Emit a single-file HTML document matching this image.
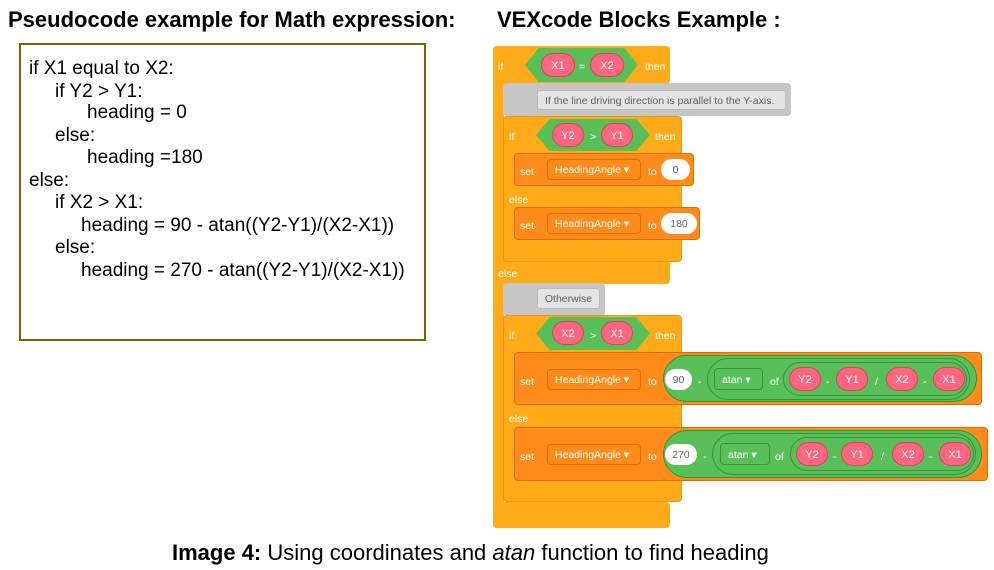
<!DOCTYPE html>
<html><head><meta charset="utf-8"><style>
*{margin:0;padding:0;box-sizing:border-box}
body{width:994px;height:570px;background:#fff;position:relative;overflow:hidden;font-family:"Liberation Sans",Arial,sans-serif}
.a{position:absolute}
.t{position:absolute;white-space:nowrap}
.code{font-size:19px;color:#000;line-height:24px}
.o{background:#ffab19;border-radius:4px;position:absolute}
.d{background:#ff8c1a;border-radius:4px;position:absolute;border:1px solid #db6e00}
.g{background:#c6c6c6;position:absolute;border-radius:4px}
.w{color:#fff;font-size:10.5px;position:absolute;white-space:nowrap;line-height:16px}
.pk{position:absolute;background:#ff6680;border:1px solid #e04060;border-radius:12px;color:#fff;font-size:11px;text-align:center;padding-top:2px}
.hex{position:absolute;background:#59c059;clip-path:polygon(12% 0,88% 0,100% 50%,88% 100%,12% 100%,0 50%)}
.dd{position:absolute;border:1px solid #db6e00;border-radius:4px;color:#fff;font-size:10.5px;padding-left:7px;padding-top:2px;white-space:nowrap}
.wp{position:absolute;background:#fff;border-radius:11px;color:#575e75;font-size:10.5px;text-align:center;padding-top:2px}
.gr{position:absolute;background:#59c059;border:1px solid #389438;border-radius:24px}
</style></head><body>
<div class="t" style="left:8px;top:7px;font-size:22px;font-weight:bold">Pseudocode example for Math expression:</div>
<div class="t" style="left:497px;top:7px;font-size:22px;font-weight:bold">VEXcode Blocks Example :</div>
<div class="a" style="left:19px;top:43px;width:407px;height:298px;border:2px solid #7f6000"></div>
<div class="t code" style="left:29px;top:57px">if X1 equal to X2:</div>
<div class="t code" style="left:55px;top:80px">if Y2 &gt; Y1:</div>
<div class="t code" style="left:87px;top:101px">heading = 0</div>
<div class="t code" style="left:55px;top:124px">else:</div>
<div class="t code" style="left:87px;top:146px">heading =180</div>
<div class="t code" style="left:29px;top:169px">else:</div>
<div class="t code" style="left:55px;top:191px">if X2 &gt; X1:</div>
<div class="t code" style="left:81px;top:214px">heading = 90 - atan((Y2-Y1)/(X2-X1))</div>
<div class="t code" style="left:55px;top:236px">else:</div>
<div class="t code" style="left:81px;top:259px">heading = 270 - atan((Y2-Y1)/(X2-X1))</div>

<!-- outer if -->
<div class="o" style="left:493px;top:46px;width:177px;height:38px"></div>
<div class="o" style="left:493px;top:46px;width:11px;height:482px"></div>
<div class="o" style="left:493px;top:260px;width:177px;height:24px"></div>
<div class="o" style="left:493px;top:502px;width:177px;height:26px"></div>
<div class="w" style="left:498px;top:59px">if</div>
<div class="hex" style="left:525px;top:48px;width:113px;height:34px"></div>
<div class="pk" style="left:541px;top:53px;width:34px;height:24px;line-height:20px">X1</div>
<div class="w" style="left:579px;top:59px">=</div>
<div class="pk" style="left:590px;top:53px;width:34px;height:24px;line-height:20px">X2</div>
<div class="w" style="left:645px;top:59px">then</div>
<!-- comment 1 -->
<div class="g" style="left:503px;top:83px;width:288px;height:33px"></div>
<div class="a" style="left:537px;top:90px;width:249px;height:20px;background:#e4e4e4;border:1px solid #bbb;border-radius:3px;color:#575e75;font-size:10.5px;line-height:20px;padding-left:7px">If the line driving direction is parallel to the Y-axis.</div>
<!-- inner if 1 -->
<div class="o" style="left:503px;top:116px;width:179px;height:146px;border:1px solid #e6971a"></div>
<div class="w" style="left:509px;top:129px">if</div>
<div class="hex" style="left:536px;top:119px;width:114px;height:32px"></div>
<div class="pk" style="left:552px;top:123px;width:32px;height:24px;line-height:20px">Y2</div>
<div class="w" style="left:590px;top:129px">&gt;</div>
<div class="pk" style="left:601px;top:123px;width:32px;height:24px;line-height:20px">Y1</div>
<div class="w" style="left:655px;top:129px">then</div>
<div class="d" style="left:514px;top:153px;width:180px;height:33px"></div>
<div class="w" style="left:520px;top:164px">set</div>
<div class="dd" style="left:547px;top:159px;width:94px;height:21px;line-height:17px">HeadingAngle ▾</div>
<div class="w" style="left:648px;top:164px">to</div>
<div class="wp" style="left:661px;top:159px;width:29px;height:21px;line-height:19px">0</div>
<div class="w" style="left:509px;top:192px">else</div>
<div class="d" style="left:514px;top:207px;width:186px;height:33px"></div>
<div class="w" style="left:520px;top:218px">set</div>
<div class="dd" style="left:547px;top:213px;width:94px;height:21px;line-height:17px">HeadingAngle ▾</div>
<div class="w" style="left:648px;top:218px">to</div>
<div class="wp" style="left:661px;top:213px;width:36px;height:21px;line-height:19px">180</div>
<div class="w" style="left:498px;top:266px">else</div>
<!-- comment 2 -->
<div class="g" style="left:503px;top:283px;width:102px;height:33px"></div>
<div class="a" style="left:537px;top:288px;width:63px;height:21px;background:#e4e4e4;border:1px solid #bbb;border-radius:3px;color:#575e75;font-size:10.5px;line-height:21px;text-align:center">Otherwise</div>
<!-- inner if 2 -->
<div class="o" style="left:503px;top:315px;width:179px;height:187px;border:1px solid #e6971a"></div>
<div class="w" style="left:509px;top:328px">if</div>
<div class="hex" style="left:536px;top:317px;width:114px;height:33px"></div>
<div class="pk" style="left:552px;top:321px;width:32px;height:24px;line-height:20px">X2</div>
<div class="w" style="left:590px;top:328px">&gt;</div>
<div class="pk" style="left:601px;top:321px;width:32px;height:24px;line-height:20px">X1</div>
<div class="w" style="left:655px;top:328px">then</div>
<!-- set 3 -->
<div class="d" style="left:514px;top:352px;width:468px;height:53px"></div>
<div class="w" style="left:520px;top:374px">set</div>
<div class="dd" style="left:547px;top:369px;width:94px;height:21px;line-height:17px">HeadingAngle ▾</div>
<div class="w" style="left:648px;top:374px">to</div>
<div class="gr" style="left:663px;top:355px;width:314px;height:47px"></div>
<div class="wp" style="left:665px;top:369px;width:27px;height:21px;line-height:19px">90</div>
<div class="w" style="left:698px;top:374px">-</div>
<div class="gr" style="left:707px;top:358px;width:263px;height:42px"></div>
<div class="dd" style="left:714px;top:368px;width:49px;height:22px;line-height:18px;border-color:#389438">atan ▾</div>
<div class="w" style="left:770px;top:374px">of</div>
<div class="gr" style="left:783px;top:362px;width:184px;height:34px"></div>
<div class="pk" style="left:789px;top:367px;width:32px;height:24px;line-height:20px">Y2</div>
<div class="w" style="left:826px;top:374px">-</div>
<div class="pk" style="left:836px;top:367px;width:32px;height:24px;line-height:20px">Y1</div>
<div class="w" style="left:875px;top:374px">/</div>
<div class="pk" style="left:886px;top:367px;width:32px;height:24px;line-height:20px">X2</div>
<div class="w" style="left:923px;top:374px">-</div>
<div class="pk" style="left:933px;top:367px;width:32px;height:24px;line-height:20px">X1</div>
<div class="w" style="left:509px;top:411px">else</div>
<!-- set 4 -->
<div class="d" style="left:514px;top:427px;width:474px;height:54px"></div>
<div class="w" style="left:520px;top:449px">set</div>
<div class="dd" style="left:547px;top:444px;width:94px;height:21px;line-height:17px">HeadingAngle ▾</div>
<div class="w" style="left:648px;top:449px">to</div>
<div class="gr" style="left:663px;top:430px;width:319px;height:48px"></div>
<div class="wp" style="left:665px;top:444px;width:32px;height:21px;line-height:19px">270</div>
<div class="w" style="left:703px;top:449px">-</div>
<div class="gr" style="left:712px;top:433px;width:264px;height:42px"></div>
<div class="dd" style="left:720px;top:443px;width:50px;height:22px;line-height:18px;border-color:#389438">atan ▾</div>
<div class="w" style="left:775px;top:449px">of</div>
<div class="gr" style="left:790px;top:437px;width:184px;height:34px"></div>
<div class="pk" style="left:796px;top:442px;width:32px;height:24px;line-height:20px">Y2</div>
<div class="w" style="left:833px;top:449px">-</div>
<div class="pk" style="left:841px;top:442px;width:32px;height:24px;line-height:20px">Y1</div>
<div class="w" style="left:881px;top:449px">/</div>
<div class="pk" style="left:892px;top:442px;width:32px;height:24px;line-height:20px">X2</div>
<div class="w" style="left:929px;top:449px">-</div>
<div class="pk" style="left:939px;top:442px;width:32px;height:24px;line-height:20px">X1</div>

<div class="t" style="left:172px;top:540px;font-size:22px;color:#000"><b>Image 4:</b> Using coordinates and <i>atan</i> function to find heading</div>
</body></html>
